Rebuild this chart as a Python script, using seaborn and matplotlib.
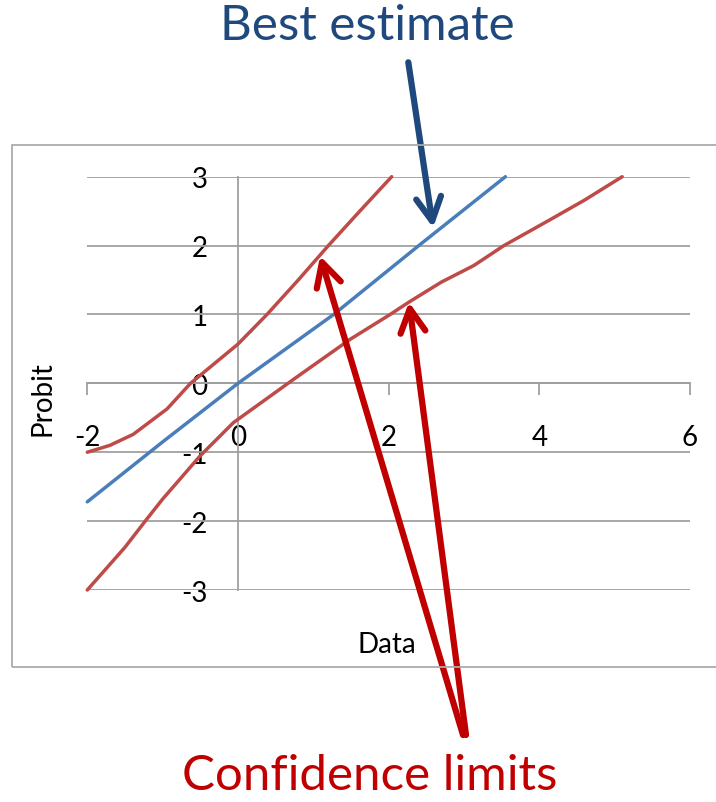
import matplotlib
matplotlib.use("Agg")
import matplotlib.pyplot as plt
import pandas as pd
import seaborn as sns
from matplotlib.patches import Rectangle

# Probit plot: best-estimate line with upper/lower confidence limits
best_x = [-2.0, -1.0, 0.0, 1.27, 2.4, 3.55]
best_y = [-1.72, -0.85, 0.0, 1.0, 2.0, 3.0]

upper_x = [-2.0, -1.7, -1.39, -0.94, -0.63, 0.0, 0.385, 0.8, 1.2, 1.6, 2.04]
upper_y = [-1.0, -0.9, -0.74, -0.37, 0.0, 0.57, 1.0, 1.5, 2.0, 2.48, 3.0]

lower_x = [-2.0, -1.5, -1.21, -1.0, -0.5, -0.06, 0.74, 1.49, 2.02, 2.27,
           2.7, 3.13, 3.53, 4.15, 4.6, 5.1]
lower_y = [-3.0, -2.38, -1.97, -1.68, -1.05, -0.57, 0.06, 0.64, 1.0, 1.18,
           1.47, 1.71, 2.0, 2.38, 2.66, 3.0]

x_ticks = [-2, 0, 2, 4, 6]
y_ticks = [-3, -2, -1, 0, 1, 2, 3]

BLUE_LINE = "#4A7EBB"
RED_LINE = "#BE4B48"
BLUE_NOTE = "#1F497D"
RED_NOTE = "#C00000"
GRID = "#A0A0A0"

sns.set_theme(style="white")
plt.rcParams["font.family"] = ["Lato", "DejaVu Sans"]

W, H = 716, 803
fig = plt.figure(figsize=(W / 100, H / 100), dpi=100)

# chart area border
fig.add_artist(Rectangle((11.7 / W, 1 - 668 / H), 1.2, (668 - 145.7) / H,
                         transform=fig.transFigure, fill=False,
                         edgecolor="#ABABAB", linewidth=1.3))

ax = fig.add_axes([87.3 / W, 1 - 591 / H, (690 - 87.3) / W, (591 - 177.7) / H])
ax.set_xlim(-2, 6)
ax.set_ylim(-3, 3)

# horizontal gridlines
for yv in y_ticks:
    ax.axhline(yv, color=GRID, linewidth=1.3, zorder=1)

df_best = pd.DataFrame({"Data": best_x, "Probit": best_y})
df_up = pd.DataFrame({"Data": upper_x, "Probit": upper_y})
df_lo = pd.DataFrame({"Data": lower_x, "Probit": lower_y})
for d, c in [(df_up, RED_LINE), (df_lo, RED_LINE), (df_best, BLUE_LINE)]:
    sns.lineplot(data=d, x="Data", y="Probit", ax=ax, color=c, linewidth=2.5,
                 sort=False, estimator=None, zorder=3, clip_on=False)

for s in ["top", "right"]:
    ax.spines[s].set_visible(False)
ax.spines["left"].set_position(("data", 0))
ax.spines["bottom"].set_position(("data", 0))
for s in ["left", "bottom"]:
    ax.spines[s].set_color(GRID)
    ax.spines[s].set_linewidth(1.3)
    ax.spines[s].set_zorder(2)

ax.set_xticks(x_ticks)
ax.set_yticks(y_ticks)
ax.set_xticklabels([str(v) for v in x_ticks])
ax.set_yticklabels([str(v) for v in y_ticks])
ax.tick_params(axis="x", direction="out", length=8.5, width=1.3, color=GRID,
               pad=21, labelsize=20, labelcolor="black", bottom=True)
ax.tick_params(axis="y", length=0, pad=22, labelsize=20, labelcolor="black",
               left=True)

ax.set_xlabel("Data", fontsize=20, color="black", va="center", ha="center")
ax.xaxis.set_label_coords((386.7 - 87.3) / (690 - 87.3), (591 - 645) / (591 - 177.7))
ax.set_ylabel("Probit", fontsize=20, color="black", va="center", ha="center",
              rotation=90)
ax.yaxis.set_label_coords((43 - 87.3) / (690 - 87.3), (591 - 398.5) / (591 - 177.7))

# callout texts
fig.text(367 / W, 1 - 26 / H, "Best estimate", fontsize=35.5, color=BLUE_NOTE,
         ha="center", va="center")
fig.text(370 / W, 1 - 776 / H, "Confidence limits", fontsize=35.5, color=RED_NOTE,
         ha="center", va="center")

def pointer(xy, start, color):
    ax.annotate("", xy=xy, xycoords="data",
                xytext=(start[0] / W, 1 - start[1] / H),
                textcoords="figure fraction", annotation_clip=False,
                arrowprops=dict(arrowstyle="->,head_length=1.7,head_width=0.9",
                                mutation_scale=10, lw=4.5, color=color,
                                shrinkA=0, shrinkB=0))

pointer((2.59, 2.26), (408.3, 63.3), BLUE_NOTE)
pointer((1.09, 1.85), (463, 736), RED_NOTE)
pointer((2.27, 1.18), (466, 736), RED_NOTE)

fig.savefig("out.png", dpi=100)
